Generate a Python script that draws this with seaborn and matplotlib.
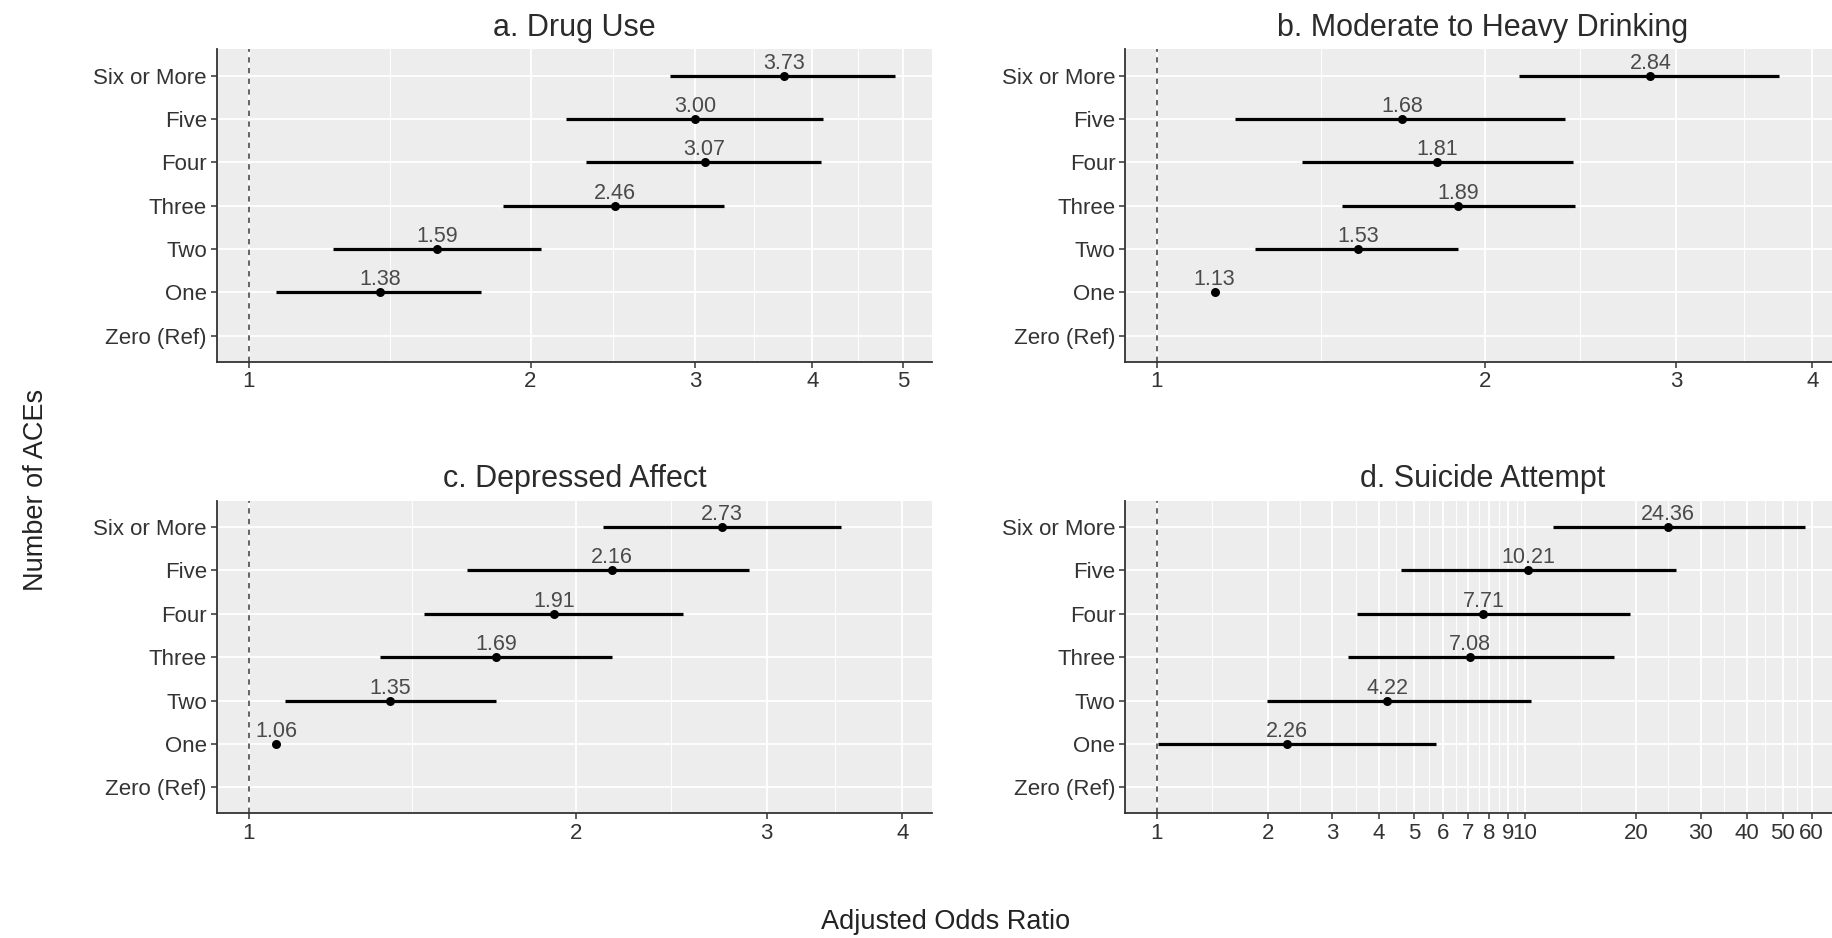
import numpy as np
import pandas as pd
import matplotlib
matplotlib.use("Agg")
import matplotlib.pyplot as plt
from matplotlib.ticker import FixedLocator, FixedFormatter, NullFormatter
import seaborn as sns

categories = ["Six or More", "Five", "Four", "Three", "Two", "One", "Zero (Ref)"]

drug_or = [3.73, 3.00, 3.07, 2.46, 1.59, 1.38]
drug_lo = [2.82, 2.18, 2.29, 1.87, 1.23, 1.07]
drug_hi = [4.90, 4.11, 4.09, 3.22, 2.05, 1.77]

drink_or = [2.84, 1.68, 1.81, 1.89, 1.53, 1.13]
drink_lo = [2.15, 1.18, 1.36, 1.48, 1.23, np.nan]
drink_hi = [3.73, 2.37, 2.41, 2.42, 1.89, np.nan]

dep_or = [2.73, 2.16, 1.91, 1.69, 1.35, 1.06]
dep_lo = [2.12, 1.59, 1.45, 1.32, 1.08, np.nan]
dep_hi = [3.51, 2.89, 2.51, 2.16, 1.69, np.nan]

sui_or = [24.36, 10.21, 7.71, 7.08, 4.22, 2.26]
sui_lo = [11.9, 4.59, 3.49, 3.30, 1.99, 1.01]
sui_hi = [57.7, 25.7, 19.3, 17.45, 10.4, 5.73]

titles = ["a. Drug Use", "b. Moderate to Heavy Drinking",
          "c. Depressed Affect", "d. Suicide Attempt"]
breaks_small = [1, 2, 3, 4, 5]
breaks_sui = [1, 2, 3, 4, 5, 6, 7, 8, 9, 10, 20, 30, 40, 50, 60]

sns.set_theme(style="darkgrid")
plt.rcParams["font.family"] = ["Liberation Sans", "DejaVu Sans"]

W, H = 1832, 938
fig = plt.figure(figsize=(W / 100, H / 100), dpi=100)
fig.patch.set_facecolor("white")


def make_ax(l, r, t, b):
    return fig.add_axes([l / W, 1 - b / H, (r - l) / W, (b - t) / H])


panels = [
    (make_ax(216.7, 932, 49.5, 361.7), drug_or, drug_lo, drug_hi, breaks_small, (0.924, 5.37)),
    (make_ax(1125, 1840, 49.5, 361.7), drink_or, drink_lo, drink_hi, breaks_small, (0.935, 4.24)),
    (make_ax(216.7, 932, 501, 813.3), dep_or, dep_lo, dep_hi, breaks_small, (0.934, 4.26)),
    (make_ax(1125, 1840, 501, 813.3), sui_or, sui_lo, sui_hi, breaks_sui, (0.820, 71.6)),
]

for (ax, est, lo, hi, brks, lims), title in zip(panels, titles):
    df = pd.DataFrame({"cat": categories[:len(est)], "est": est, "lo": lo, "hi": hi})
    df["pos"] = [categories.index(c) for c in df["cat"]]

    ax.set_facecolor("#EDEDED")
    ax.set_xscale("log")
    ax.set_xlim(*lims)
    ax.set_ylim(len(categories) - 1 + 0.6, -0.6)

    ci = df.dropna()
    ax.hlines(ci["pos"], ci["lo"], ci["hi"], color="black", lw=2.3, zorder=3)
    sns.scatterplot(data=df, x="est", y="pos", ax=ax, color="black", s=42,
                    edgecolor="black", linewidth=0, zorder=4, legend=False)
    for _, r in df.iterrows():
        ax.text(r["est"], r["pos"] - 0.16, f"{r['est']:.2f}", ha="center", va="baseline",
                fontsize=15.5, color="#4a4a4a", zorder=5)

    ax.axvline(1, color="#3a3a3a", lw=1.1, ls=(0, (3.5, 3.5)), zorder=2)

    # log breaks and ggplot-style minor lines between them
    shown = [b for b in brks if lims[0] <= b <= lims[1]]
    minors = [np.sqrt(a * b) for a, b in zip(shown[:-1], shown[1:])]
    ax.xaxis.set_major_locator(FixedLocator(shown))
    ax.xaxis.set_major_formatter(FixedFormatter([str(b) for b in shown]))
    ax.xaxis.set_minor_locator(FixedLocator(minors))
    ax.xaxis.set_minor_formatter(NullFormatter())
    ax.set_yticks(range(len(categories)))
    ax.set_yticklabels(categories)

    ax.grid(which="major", color="white", lw=1.3)
    ax.grid(which="minor", axis="x", color="white", lw=0.7)
    ax.set_axisbelow(True)

    for side in ["top", "right"]:
        ax.spines[side].set_visible(False)
    for side in ["left", "bottom"]:
        ax.spines[side].set_visible(True)
        ax.spines[side].set_color("#333333")
        ax.spines[side].set_linewidth(1.3)

    ax.tick_params(axis="both", which="major", length=4, width=1.1, color="#333333",
                   labelsize=16, labelcolor="#333333", pad=3, bottom=True, left=True)
    ax.tick_params(axis="x", which="minor", length=0)
    ax.set_xlabel("")
    ax.set_ylabel("")
    ax.set_title(title, fontsize=22, color="#2b2b2b", pad=10)

fig.text(946 / W, 1 - 922 / H, "Adjusted Odds Ratio", ha="center", va="center",
         fontsize=19.5, color="#222222")
fig.text(36 / W, 1 - 490 / H, "Number of ACEs", ha="center", va="center",
         rotation=90, fontsize=19.5, color="#222222")

fig.savefig("out.png", dpi=100, facecolor="white")
